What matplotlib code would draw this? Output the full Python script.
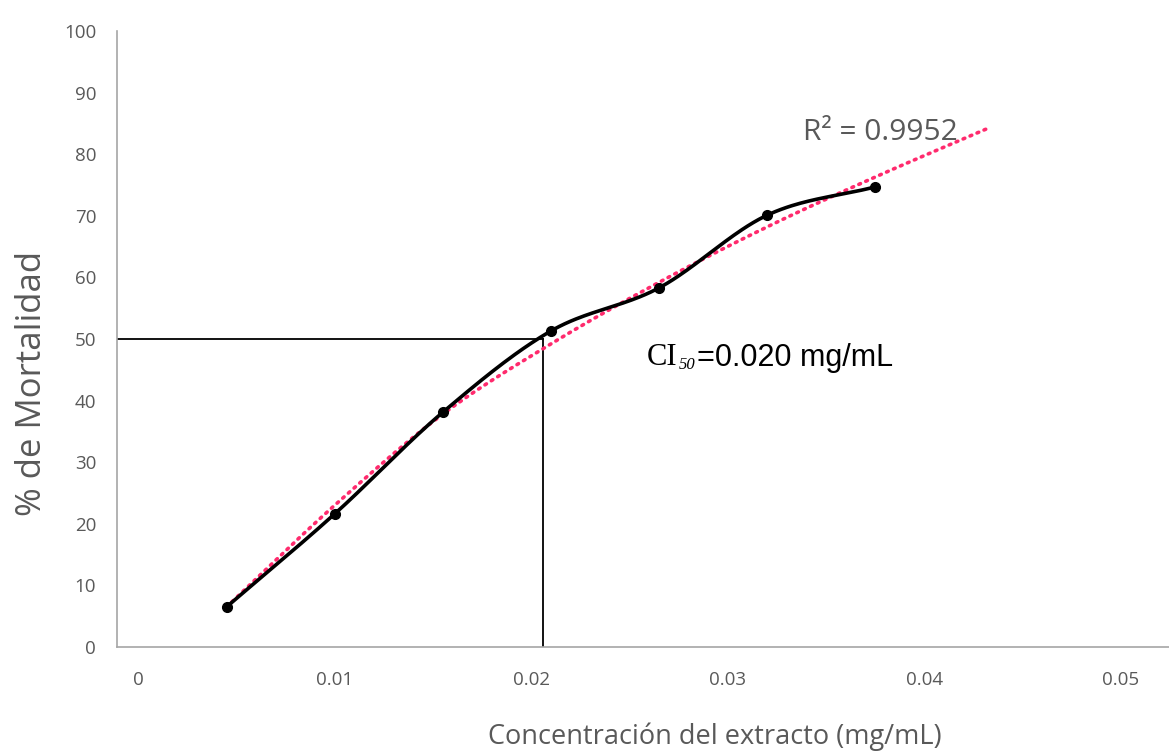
import numpy as np
import matplotlib
matplotlib.use("Agg")
import matplotlib.pyplot as plt

# Data
conc = [0.0045, 0.0100, 0.0155, 0.0210, 0.0265, 0.0320, 0.0375]
mortality = [6.5, 21.6, 38.1, 51.3, 58.3, 70.1, 74.7]
# Trendline as drawn in the chart
trend_conc = [0.0045, 0.0100, 0.0155, 0.0210, 0.0265, 0.0320, 0.0375, 0.0433]
trend_mort = [6.5, 23.0, 37.8, 49.2, 59.2, 68.2, 76.3, 84.3]
ci50 = 0.0206
r2_text = "R² = 0.9952"
xticks = [0, 0.01, 0.02, 0.03, 0.04, 0.05]
xticklabels = ["0", "0.01", "0.02", "0.03", "0.04", "0.05"]
yticks = list(range(0, 101, 10))

W, H = 1169, 751
fig = plt.figure(figsize=(W/100, H/100), dpi=100)
ax = fig.add_axes([117/W, 1-647/H, 1-117/W, (647-31)/H])
ax.set_xlim(-0.00107, 0.05244)
ax.set_ylim(0, 100)


def smooth(xs, ys, n=40):
    """Catmull-Rom smoothing through the given points (spreadsheet-style smooth line)."""
    x = np.asarray(xs, float); y = np.asarray(ys, float)
    px = np.concatenate([[2*x[0]-x[1]], x, [2*x[-1]-x[-2]]])
    py = np.concatenate([[2*y[0]-y[1]], y, [2*y[-1]-y[-2]]])
    sx, sy = [], []
    t = np.linspace(0, 1, n)
    for i in range(1, len(px) - 2):
        p0, p1, p2, p3 = [np.array([px[j], py[j]]) for j in (i-1, i, i+1, i+2)]
        for tt in t:
            pt = 0.5 * ((2*p1) + (-p0 + p2)*tt + (2*p0 - 5*p1 + 4*p2 - p3)*tt**2
                        + (-p0 + 3*p1 - 3*p2 + p3)*tt**3)
            sx.append(pt[0]); sy.append(pt[1])
    return sx, sy


tx, ty = smooth(trend_conc, trend_mort)
ax.plot(tx, ty, linestyle=(0, (0.5, 1.6)), color="#ff2a6d", lw=2.6,
        dash_capstyle="round", zorder=2)

sx, sy = smooth(conc, mortality)
ax.plot(sx, sy, color="black", lw=2.6, zorder=3)
ax.plot(conc, mortality, "o", color="black", ms=7, zorder=4)

# CI50 reference lines
ax.plot([ax.get_xlim()[0], ci50], [50, 50], color="black", lw=1.3, zorder=1)
ax.plot([ci50, ci50], [0, 50], color="black", lw=1.3, zorder=1)

for s in ["top", "right"]:
    ax.spines[s].set_visible(False)
for s in ["left", "bottom"]:
    ax.spines[s].set_color("#a6a6a6")
    ax.spines[s].set_linewidth(1.2)

ax.set_xticks(xticks)
ax.set_xticklabels(xticklabels)
ax.set_yticks(yticks)
ax.tick_params(length=0, labelsize=13.5, labelcolor="#595959")
ax.tick_params(axis="x", pad=17)
ax.tick_params(axis="y", pad=15)
for lab in ax.get_xticklabels() + ax.get_yticklabels():
    lab.set_fontfamily("Open Sans")

fig.text(715/W, 1-737/H, "Concentración del extracto (mg/mL)", fontsize=19.5, color="#595959",
         family="Open Sans", ha="center", va="center")
fig.text(32/W, 1-383/H, "% de Mortalidad", fontsize=25, color="#595959", family="Open Sans",
         rotation=90, ha="center", va="center")

fig.text(803/W, 1-133/H, r2_text, fontsize=21.5, color="#595959", family="Open Sans",
         ha="left", va="center")

fig.text(647/W, 1-358/H, "CI", fontsize=22, family="Liberation Serif", va="center", ha="left")
fig.text(679/W, 1-365/H, "50", fontsize=12, family="Liberation Serif", style="italic",
         va="center", ha="left")
fig.text(697/W, 1-358/H, "=0.020 mg/mL", fontsize=22, family="Liberation Sans",
         va="center", ha="left")

fig.savefig("out.png", dpi=100)
